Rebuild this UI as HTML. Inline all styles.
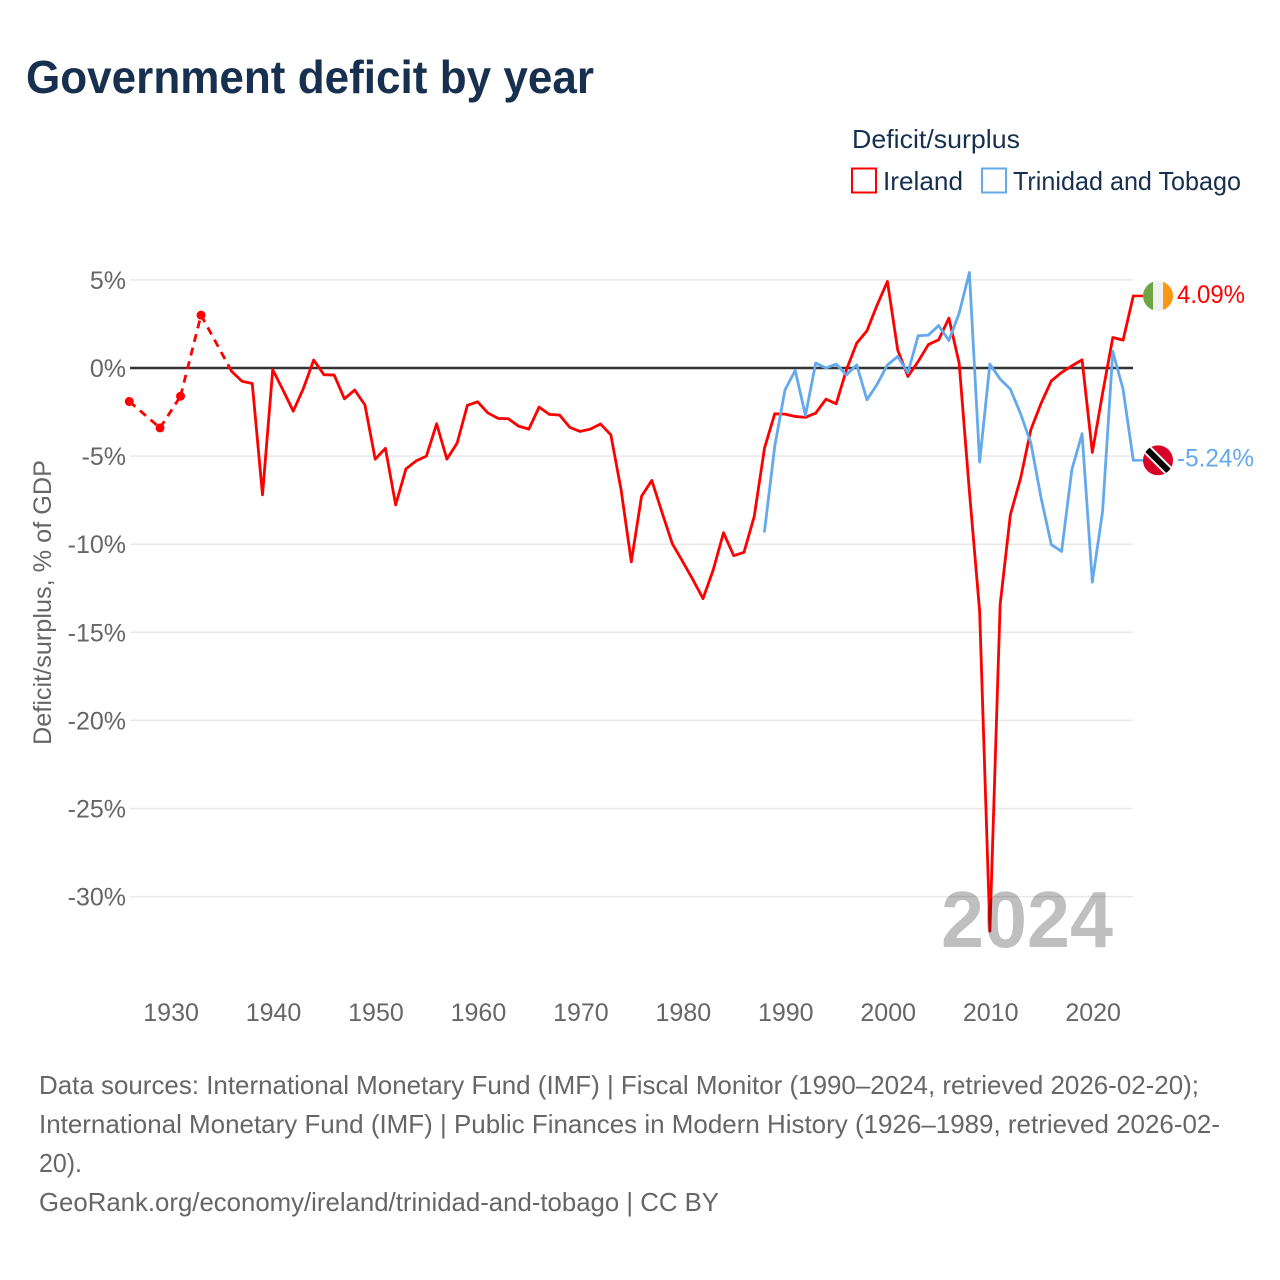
<!DOCTYPE html>
<html lang="en">
<head>
<meta charset="utf-8">
<title>Government deficit by year</title>
<style>
  html, body { margin: 0; padding: 0; background: #fff; }
  svg { display: block; font-family: "Liberation Sans", sans-serif; }
</style>
</head>
<body>
<svg id="chart" xmlns="http://www.w3.org/2000/svg" width="1280" height="1280" viewBox="0 0 1280 1280">
  <rect x="0" y="0" width="1280" height="1280" fill="#ffffff"/>
  <text x="26" y="93" font-size="46" font-weight="700" fill="#18304f" textLength="568" lengthAdjust="spacingAndGlyphs">Government deficit by year</text>

  <g>
    <text x="852" y="148" font-size="26" fill="#18304f" textLength="168" lengthAdjust="spacingAndGlyphs">Deficit/surplus</text>
    <g>
      <rect x="852" y="168.5" width="24" height="24" fill="#ffffff" stroke="#ff0000" stroke-width="2"/>
      <text x="883" y="190" font-size="26" fill="#18304f" textLength="80" lengthAdjust="spacingAndGlyphs">Ireland</text>
    </g>
    <g>
      <rect x="982" y="168.5" width="24" height="24" fill="#ffffff" stroke="#63a9ec" stroke-width="2"/>
      <text x="1013" y="190" font-size="26" fill="#18304f" textLength="228" lengthAdjust="spacingAndGlyphs">Trinidad and Tobago</text>
    </g>
  </g>

  <text transform="translate(51,745) rotate(-90)" x="0" y="0" font-size="25" fill="#666666" textLength="285" lengthAdjust="spacingAndGlyphs">Deficit/surplus, % of GDP</text>

  <g id="grid"></g>
  <g id="yLabels"></g>
  <g id="xLabels"></g>
  <g id="zero"></g>
  <g id="series"></g>

  <defs>
    <clipPath id="clipIE"><circle id="clipIEc" cx="1158" cy="295" r="15"/></clipPath>
    <clipPath id="clipTT"><circle id="clipTTc" cx="1158" cy="460" r="15"/></clipPath>
  </defs>
  <g id="endMarks"></g>

  <text x="941" y="947" font-size="80" font-weight="700" fill="#000000" fill-opacity="0.25" textLength="172" lengthAdjust="spacingAndGlyphs">2024</text>

  <g font-size="26" fill="#666666">
    <text x="39" y="1094" textLength="1160" lengthAdjust="spacingAndGlyphs">Data sources: International Monetary Fund (IMF) | Fiscal Monitor (1990–2024, retrieved 2026-02-20);</text>
    <text x="39" y="1133" textLength="1181" lengthAdjust="spacingAndGlyphs">International Monetary Fund (IMF) | Public Finances in Modern History (1926–1989, retrieved 2026-02-</text>
    <text x="39" y="1172" textLength="43" lengthAdjust="spacingAndGlyphs">20).</text>
    <text x="39" y="1211" textLength="680" lengthAdjust="spacingAndGlyphs">GeoRank.org/economy/ireland/trinidad-and-tobago | CC BY</text>
  </g>
</svg>

<script>
const startYear = 1926;
const yTicks = [5, 0, -5, -10, -15, -20, -25, -30];
const xTicks = [1930, 1940, 1950, 1960, 1970, 1980, 1990, 2000, 2010, 2020];
const irelandValues = [
  -1.9, null, null, -3.4, null, -1.6, null, 3.0, null, null, -0.2, -0.75, -0.88, -7.2,
  -0.1, -1.25, -2.45, -1.15, 0.45, -0.38, -0.4, -1.75, -1.25, -2.1,
  -5.17, -4.56, -7.77, -5.73, -5.27, -5.0, -3.17, -5.17, -4.26, -2.12,
  -1.92, -2.55, -2.86, -2.88, -3.3, -3.47, -2.22, -2.63, -2.67, -3.37,
  -3.6, -3.47, -3.18, -3.79, -6.9, -11.0, -7.28, -6.38, -8.2, -9.97,
  -10.97, -12.0, -13.09, -11.45, -9.35, -10.65, -10.46, -8.42, -4.55, -2.6,
  -2.62, -2.75, -2.8, -2.56, -1.77, -2.03, -0.1, 1.41, 2.11, 3.58,
  4.91, 1.03, -0.48, 0.37, 1.33, 1.6, 2.83, 0.28, -7.0, -13.8,
  -31.96, -13.43, -8.33, -6.25, -3.5, -2.0, -0.73, -0.25, 0.12, 0.46,
  -4.79, -1.43, 1.73, 1.58, 4.09
];
const trinidadStartYear = 1988;
const trinidadValues = [
  -9.27, -4.45,
  -1.24, -0.14, -2.69, 0.28, 0.0, 0.22, -0.39, 0.18, -1.8, -0.92,
  0.18, 0.65, -0.27, 1.83, 1.87, 2.41, 1.56, 3.11, 5.42, -5.34,
  0.22, -0.63, -1.2, -2.6, -4.26, -7.38, -10.03, -10.41, -5.77, -3.73,
  -12.15, -8.14, 0.94, -1.2, -5.24
];

const NS = 'http://www.w3.org/2000/svg';
const X = function (year) { return 129.3 + (year - 1926) * 10.245; };
const Y = function (v) { return 368.0 - v * 17.62; };

function make(tag, parent, attrs, text) {
  const el = document.createElementNS(NS, tag);
  Object.keys(attrs).forEach(function (k) { el.setAttribute(k, attrs[k]); });
  if (text !== undefined) el.textContent = text;
  parent.appendChild(el);
  return el;
}

const gridG = document.getElementById('grid');
const yLabelG = document.getElementById('yLabels');
yTicks.forEach(function (t) {
  if (t !== 0) {
    const line = make('line', gridG, { x1: 130, x2: 1133, y1: Y(t), y2: Y(t), stroke: '#e8e8e8', 'stroke-width': 1.5 });
    
    
  }
  const label = make('text', yLabelG, { x: 126, y: Y(t) + 9, 'text-anchor': 'end', 'font-size': 25, fill: '#666666' }, t + '%');
  
  
});

const xLabelG = document.getElementById('xLabels');
xTicks.forEach(function (t) {
  const label = make('text', xLabelG, { x: X(t) + 0.8, y: 1021, 'text-anchor': 'middle', 'font-size': 25, fill: '#666666' }, String(t));
  
  
});

const zeroLine = make('line', document.getElementById('zero'), { x1: 130, x2: 1133, y1: Y(0), y2: Y(0), stroke: '#333333', 'stroke-width': 2.5 });



function drawSeries(values, firstYear, color, name) {
  const seriesG = document.getElementById('series');
  const present = [];
  values.forEach(function (v, i) {
    if (v !== null) present.push({ year: firstYear + i, v: v });
  });
  let solid = '';
  let dashed = '';
  present.forEach(function (p, i) {
    if (i === 0) return;
    const q = present[i - 1];
    const seg = 'M' + X(q.year).toFixed(2) + ' ' + Y(q.v).toFixed(2) + 'L' + X(p.year).toFixed(2) + ' ' + Y(p.v).toFixed(2);
    if (p.year - q.year === 1) solid += seg; else dashed += seg;
  });
  const solidPath = make('path', seriesG, { d: solid, fill: 'none', stroke: color, 'stroke-width': 2.8, 'stroke-linecap': 'round' });
  
  
  if (dashed) {
    const dashedPath = make('path', seriesG, { d: dashed, fill: 'none', stroke: color, 'stroke-width': 2.8, 'stroke-dasharray': '8 6' });
    
    
  }
  present.forEach(function (p, i) {
    const prevGap = i === 0 || p.year - present[i - 1].year > 1;
    const nextGap = i === present.length - 1 || present[i + 1].year - p.year > 1;
    if (prevGap && nextGap) {
      const dot = make('circle', seriesG, { cx: X(p.year), cy: Y(p.v), r: 4.5, fill: color });
      
      
    }
  });
  const last = present[present.length - 1];
  const connector = make('line', seriesG, { x1: X(last.year), x2: 1143, y1: Y(last.v), y2: Y(last.v), stroke: color, 'stroke-width': 2.5 });
  
  
  return last;
}

const ieLast = drawSeries(irelandValues, startYear, '#ff0000', 'ireland');
const ttLast = drawSeries(trinidadValues, trinidadStartYear, '#63a9ec', 'trinidad-and-tobago');

const marks = document.getElementById('endMarks');
const cx = 1158;
const ieY = Y(ieLast.v);
const ttY = Y(ttLast.v);
document.getElementById('clipIEc').setAttribute('cy', ieY);
document.getElementById('clipTTc').setAttribute('cy', ttY);

const ieFlag = make('g', marks, { 'clip-path': 'url(#clipIE)' });


make('rect', ieFlag, { x: cx - 15, y: ieY - 15, width: 10, height: 30, fill: '#6da544' });
make('rect', ieFlag, { x: cx - 5, y: ieY - 15, width: 10, height: 30, fill: '#f0f0f0' });
make('rect', ieFlag, { x: cx + 5, y: ieY - 15, width: 10, height: 30, fill: '#ff9811' });

const ttFlag = make('g', marks, { 'clip-path': 'url(#clipTT)' });


make('rect', ttFlag, { x: cx - 15, y: ttY - 15, width: 30, height: 30, fill: '#d80027' });
make('line', ttFlag, { x1: cx - 15, y1: ttY - 15, x2: cx + 15, y2: ttY + 15, stroke: '#f0f0f0', 'stroke-width': 10 });
make('line', ttFlag, { x1: cx - 15, y1: ttY - 15, x2: cx + 15, y2: ttY + 15, stroke: '#000000', 'stroke-width': 6 });

const ieLabel = make('text', marks, { x: 1177, y: ieY + 7, 'font-size': 25, fill: '#ff0000', textLength: 68, lengthAdjust: 'spacingAndGlyphs' }, ieLast.v.toFixed(2) + '%');


const ttLabel = make('text', marks, { x: 1177, y: ttY + 6, 'font-size': 25, fill: '#63a9ec', textLength: 77, lengthAdjust: 'spacingAndGlyphs' }, ttLast.v.toFixed(2) + '%');


</script>
</body>
</html>
